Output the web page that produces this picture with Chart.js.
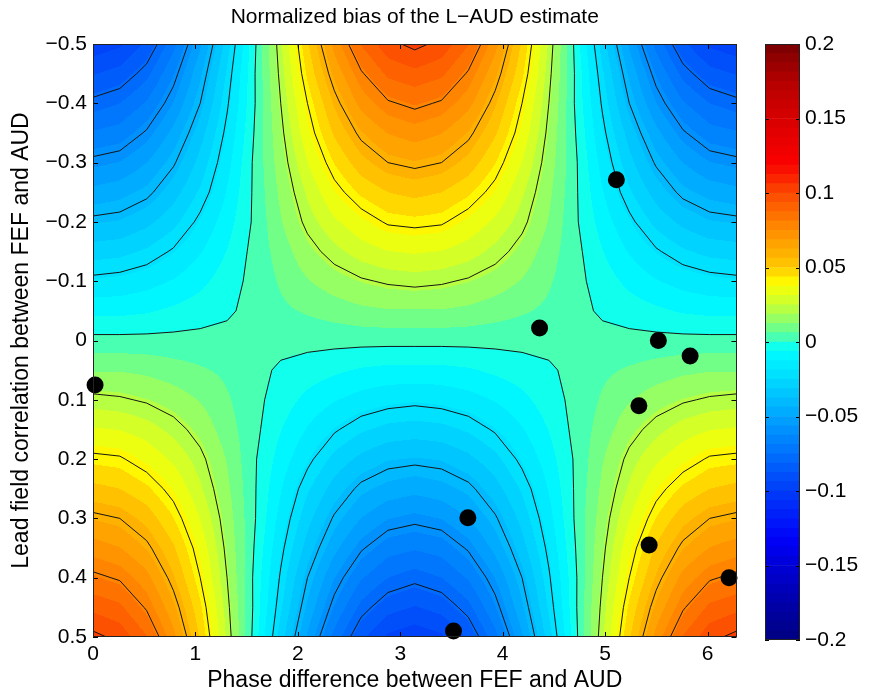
<!DOCTYPE html>
<html>
<head>
<meta charset="utf-8">
<title>Normalized bias of the L−AUD estimate</title>
<script src="https://cdn.jsdelivr.net/npm/chart.js@4.4.1/dist/chart.umd.min.js"></script>
<style>
  html, body { margin: 0; padding: 0; background: #fff; }
  #wrap { position: relative; width: 892px; height: 700px; }
  #biasChart { position: absolute; left: 0; top: 0; }
  #cbarChart { position: absolute; left: 740px; top: 0; }
</style>
</head>
<body>
<div id="wrap">
  <canvas id="biasChart" width="745" height="700"></canvas>
  <canvas id="cbarChart" width="152" height="700"></canvas>
</div>
<script>
// grid nodes (phase along x, lead field correlation along y)
var phaseNodes = [0, 0.262, 0.524, 0.785, 1.047, 1.309, 1.571, 1.833, 2.094, 2.356, 2.618, 2.880, 3.142,
                  3.403, 3.665, 3.927, 4.189, 4.451, 4.712, 4.974, 5.236, 5.498, 5.760, 6.021, 6.283];
var corrNodes = [-0.5, -0.45, -0.4, -0.35, -0.3, -0.25, -0.2, -0.15, -0.1, -0.05, 0,
                 0.05, 0.1, 0.15, 0.2, 0.25, 0.3, 0.35, 0.4, 0.45, 0.5];

// normalized bias, one row per corrNodes value
var biasGrid = [
  [-.098,-.095,-.086,-.071,-.051,-.028,-.002,.024,.049,.071,.088,.098,.102,.098,.088,.071,.049,.024,-.002,-.028,-.051,-.071,-.086,-.095,-.098],
  [-.088,-.085,-.077,-.063,-.045,-.024,-.001,.022,.045,.064,.079,.089,.092,.089,.079,.064,.045,.022,-.001,-.024,-.045,-.063,-.077,-.085,-.088],
  [-.078,-.075,-.068,-.056,-.040,-.021,-.001,.020,.040,.057,.071,.079,.082,.079,.071,.057,.040,.020,-.001,-.021,-.040,-.056,-.068,-.075,-.078],
  [-.068,-.066,-.059,-.048,-.034,-.018,.000,.018,.036,.051,.062,.069,.072,.069,.062,.051,.036,.018,.000,-.018,-.034,-.048,-.059,-.066,-.068],
  [-.058,-.056,-.050,-.041,-.029,-.015,.001,.016,.031,.044,.054,.060,.062,.060,.054,.044,.031,.016,.001,-.015,-.029,-.041,-.050,-.056,-.058],
  [-.048,-.046,-.042,-.034,-.024,-.012,.001,.014,.026,.037,.045,.050,.052,.050,.045,.037,.026,.014,.001,-.012,-.024,-.034,-.042,-.046,-.048],
  [-.038,-.037,-.033,-.027,-.018,-.009,.001,.012,.022,.030,.036,.041,.042,.041,.036,.030,.022,.012,.001,-.009,-.018,-.027,-.033,-.037,-.038],
  [-.028,-.027,-.024,-.019,-.013,-.006,.002,.009,.017,.023,.028,.031,.032,.031,.028,.023,.017,.009,.002,-.006,-.013,-.019,-.024,-.027,-.028],
  [-.018,-.017,-.015,-.012,-.008,-.003,.002,.007,.012,.016,.019,.021,.022,.021,.019,.016,.012,.007,.002,-.003,-.008,-.012,-.015,-.017,-.018],
  [-.008,-.008,-.007,-.005,-.003,-.001,.002,.005,.007,.009,.011,.012,.012,.012,.011,.009,.007,.005,.002,-.001,-.003,-.005,-.007,-.008,-.008],
  [.002,.002,.002,.002,.002,.002,.002,.002,.002,.002,.002,.002,.002,.002,.002,.002,.002,.002,.002,.002,.002,.002,.002,.002,.002],
  [.012,.012,.011,.009,.007,.005,.002,-.001,-.003,-.005,-.007,-.008,-.008,-.008,-.007,-.005,-.003,-.001,.002,.005,.007,.009,.011,.012,.012],
  [.022,.021,.019,.016,.012,.007,.002,-.003,-.008,-.012,-.015,-.017,-.018,-.017,-.015,-.012,-.008,-.003,.002,.007,.012,.016,.019,.021,.022],
  [.032,.031,.028,.023,.017,.009,.002,-.006,-.013,-.019,-.024,-.027,-.028,-.027,-.024,-.019,-.013,-.006,.002,.009,.017,.023,.028,.031,.032],
  [.042,.041,.036,.030,.022,.012,.001,-.009,-.018,-.027,-.033,-.037,-.038,-.037,-.033,-.027,-.018,-.009,.001,.012,.022,.030,.036,.041,.042],
  [.052,.050,.045,.037,.026,.014,.001,-.012,-.024,-.034,-.042,-.046,-.048,-.046,-.042,-.034,-.024,-.012,.001,.014,.026,.037,.045,.050,.052],
  [.062,.060,.054,.044,.031,.016,.001,-.015,-.029,-.041,-.050,-.056,-.058,-.056,-.050,-.041,-.029,-.015,.001,.016,.031,.044,.054,.060,.062],
  [.072,.069,.062,.051,.036,.018,.000,-.018,-.034,-.048,-.059,-.066,-.068,-.066,-.059,-.048,-.034,-.018,.000,.018,.036,.051,.062,.069,.072],
  [.082,.079,.071,.057,.040,.020,-.001,-.021,-.040,-.056,-.068,-.075,-.078,-.075,-.068,-.056,-.040,-.021,-.001,.020,.040,.057,.071,.079,.082],
  [.092,.089,.079,.064,.045,.022,-.001,-.024,-.045,-.063,-.077,-.085,-.088,-.085,-.077,-.063,-.045,-.024,-.001,.022,.045,.064,.079,.089,.092],
  [.102,.098,.088,.071,.049,.024,-.002,-.028,-.051,-.071,-.086,-.095,-.098,-.095,-.086,-.071,-.051,-.028,-.002,.024,.049,.071,.088,.098,.102]
];

var contourLevels = [-0.08, -0.06, -0.04, -0.02, 0, 0.02, 0.04, 0.06, 0.08, 0.1];

// black markers
var dotPhase = [5.11, 4.36, 5.52, 5.83, 5.33, 0.02, 3.66, 5.43, 6.21, 3.52];
var dotCorr  = [-0.271, -0.021, 0.0, 0.026, 0.110, 0.075, 0.299, 0.345, 0.400, 0.490];

// axis ticks
var phaseTicks = [0, 1, 2, 3, 4, 5, 6];
var corrTicks = [-0.5, -0.4, -0.3, -0.2, -0.1, 0, 0.1, 0.2, 0.3, 0.4, 0.5];
var cbarTicks = [-0.2, -0.15, -0.1, -0.05, 0, 0.05, 0.1, 0.15, 0.2];

// colour scale
var cbarMin = -0.2, cbarMax = 0.2, cbarBands = 64;
var cmapValues = [-0.2, -0.175, -0.15, -0.135, -0.125, -0.1, -0.075, -0.05, -0.025, -0.005,
                  0.004, 0.012, 0.025, 0.039, 0.05, 0.075, 0.1, 0.12, 0.15, 0.175, 0.2];
var cmapColors = [[0,0,130],[0,0,170],[0,0,215],[0,0,245],[0,15,250],[0,60,248],[0,112,252],[0,165,255],[0,218,255],[0,255,255],
                  [80,255,170],[130,255,120],[200,255,50],[255,255,0],[255,200,0],[255,140,0],[252,72,0],[250,0,0],[215,0,0],[180,0,0],[120,0,0]];

var FONT = "'Liberation Sans', Arial, Helvetica, sans-serif";

function colorAt(v) {
    if (v <= cmapValues[0]) return cmapColors[0];
    for (var k = 1; k < cmapValues.length; k++) {
        if (v <= cmapValues[k]) {
            var t = (v - cmapValues[k - 1]) / (cmapValues[k] - cmapValues[k - 1]);
            var a = cmapColors[k - 1], b = cmapColors[k];
            return [0, 1, 2].map(function (c) { return Math.round(a[c] + (b[c] - a[c]) * t); });
        }
    }
    return cmapColors[cmapColors.length - 1];
}

function bandIndex(v) {
    var i = Math.floor((v - cbarMin) / (cbarMax - cbarMin) * cbarBands);
    return Math.max(0, Math.min(cbarBands - 1, i));
}

function bandRGB(i) {
    return colorAt(cbarMin + (i + 0.5) * (cbarMax - cbarMin) / cbarBands);
}

function bandColor(i) {
    var c = bandRGB(i);
    return 'rgb(' + c[0] + ',' + c[1] + ',' + c[2] + ')';
}

function signedLabel(v) {
    if (v === 0) return '0';
    return (v < 0 ? '\u2212' : '') + Math.abs(v);
}

// index of the grid cell holding v, and the position inside it
function locate(nodes, v) {
    var j = 0;
    while (j < nodes.length - 2 && v > nodes[j + 1]) j++;
    var t = (v - nodes[j]) / (nodes[j + 1] - nodes[j]);
    return [j, Math.max(0, Math.min(1, t))];
}

// filled map + contour lines under the markers, frame and inward ticks on top
var fieldPlugin = {
    id: 'field',
    beforeDatasetsDraw: function (chart) {
        var ctx = chart.ctx, area = chart.chartArea, x = chart.scales.x, y = chart.scales.y;
        var dpr = chart.currentDevicePixelRatio || 1;
        var X0 = Math.round(area.left * dpr), Y0 = Math.round(area.top * dpr);
        var W = Math.round(area.right * dpr) - X0, H = Math.round(area.bottom * dpr) - Y0;
        var img = ctx.createImageData(W, H);
        var palette = [];
        for (var b = 0; b < cbarBands; b++) palette.push(bandRGB(b));

        // each grid cell is shaded from its four corner values
        var cols = [], rows = [];
        for (var px = 0; px < W; px++) cols.push(locate(phaseNodes, x.getValueForPixel((X0 + px + 0.5) / dpr)));
        for (var py = 0; py < H; py++) rows.push(locate(corrNodes, y.getValueForPixel((Y0 + py + 0.5) / dpr)));
        for (py = 0; py < H; py++) {
            var i = rows[py][0], ty = rows[py][1];
            var g0 = biasGrid[i], g1 = biasGrid[i + 1];
            for (px = 0; px < W; px++) {
                var j = cols[px][0], tx = cols[px][1];
                var top = g0[j] + (g0[j + 1] - g0[j]) * tx;
                var bot = g1[j] + (g1[j + 1] - g1[j]) * tx;
                var c = palette[bandIndex(top + (bot - top) * ty)];
                var o = (py * W + px) * 4;
                img.data[o] = c[0]; img.data[o + 1] = c[1]; img.data[o + 2] = c[2]; img.data[o + 3] = 255;
            }
        }
        ctx.putImageData(img, X0, Y0);

        ctx.save();
        ctx.beginPath();
        ctx.rect(area.left, area.top, area.right - area.left, area.bottom - area.top);
        ctx.clip();
        // marching squares over the node grid
        ctx.strokeStyle = '#151515';
        ctx.lineWidth = 1;
        ctx.lineJoin = 'round';
        contourLevels.forEach(function (level) {
            ctx.beginPath();
            for (var i = 0; i < corrNodes.length - 1; i++) {
                for (var j = 0; j < phaseNodes.length - 1; j++) {
                    var corners = [
                        [phaseNodes[j], corrNodes[i], biasGrid[i][j]],
                        [phaseNodes[j + 1], corrNodes[i], biasGrid[i][j + 1]],
                        [phaseNodes[j + 1], corrNodes[i + 1], biasGrid[i + 1][j + 1]],
                        [phaseNodes[j], corrNodes[i + 1], biasGrid[i + 1][j]]
                    ];
                    var pts = [];
                    for (var e = 0; e < 4; e++) {
                        var a = corners[e], b = corners[(e + 1) % 4];
                        if ((a[2] >= level) !== (b[2] >= level)) {
                            var t = (level - a[2]) / (b[2] - a[2]);
                            pts.push([a[0] + (b[0] - a[0]) * t, a[1] + (b[1] - a[1]) * t]);
                        }
                    }
                    for (var k = 0; k + 1 < pts.length; k += 2) {
                        ctx.moveTo(x.getPixelForValue(pts[k][0]), y.getPixelForValue(pts[k][1]));
                        ctx.lineTo(x.getPixelForValue(pts[k + 1][0]), y.getPixelForValue(pts[k + 1][1]));
                    }
                }
            }
            ctx.stroke();
        });
        ctx.restore();
    },
    afterDraw: function (chart) {
        var ctx = chart.ctx, area = chart.chartArea, x = chart.scales.x, y = chart.scales.y;
        var len = 5;
        ctx.save();
        ctx.strokeStyle = '#000';
        ctx.lineWidth = 1;
        ctx.beginPath();
        phaseTicks.forEach(function (v) {
            var px = Math.round(x.getPixelForValue(v)) + 0.5;
            ctx.moveTo(px, area.bottom); ctx.lineTo(px, area.bottom - len);
            ctx.moveTo(px, area.top); ctx.lineTo(px, area.top + len);
        });
        corrTicks.forEach(function (v) {
            var py = Math.round(y.getPixelForValue(v)) + 0.5;
            ctx.moveTo(area.left, py); ctx.lineTo(area.left + len, py);
            ctx.moveTo(area.right, py); ctx.lineTo(area.right - len, py);
        });
        ctx.stroke();
        ctx.strokeStyle = '#222';
        ctx.strokeRect(Math.round(area.left) + 0.5, Math.round(area.top) + 0.5,
                       Math.round(area.right - area.left) - 1, Math.round(area.bottom - area.top) - 1);
        ctx.restore();
    }
};

var dots = dotPhase.map(function (p, i) { return { x: p, y: dotCorr[i] }; });

new Chart(document.getElementById('biasChart'), {
    type: 'scatter',
    data: {
        datasets: [{
            data: dots,
            backgroundColor: '#000',
            borderColor: '#000',
            borderWidth: 0,
            pointRadius: 8.5,
            pointHoverRadius: 8.5,
            clip: false
        }]
    },
    options: {
        responsive: false,
        animation: false,
        events: [],
        layout: { padding: { left: 0, right: 4, top: 0, bottom: 0 } },
        plugins: {
            legend: { display: false },
            tooltip: { enabled: false },
            title: {
                display: true,
                fullSize: false,
                text: 'Normalized bias of the L\u2212AUD estimate',
                color: '#000',
                font: { family: FONT, size: 21, weight: 'normal' },
                padding: { top: 5, bottom: 13.8 }
            }
        },
        scales: {
            x: {
                type: 'linear',
                min: phaseNodes[0],
                max: phaseNodes[phaseNodes.length - 1],
                afterBuildTicks: function (s) { s.ticks = phaseTicks.map(function (v) { return { value: v }; }); },
                afterFit: function (s) { s.height = 63; },
                grid: { display: false, drawTicks: false },
                border: { display: false },
                ticks: {
                    autoSkip: false, maxRotation: 0, padding: 5, color: '#000',
                    font: { family: FONT, size: 21 },
                    callback: function (v) { return String(v); }
                },
                title: {
                    display: true,
                    text: 'Phase difference between FEF and AUD',
                    color: '#000',
                    font: { family: FONT, size: 23 },
                    padding: { top: 0, bottom: 6 }
                }
            },
            y: {
                type: 'linear',
                reverse: true,
                min: corrNodes[0],
                max: corrNodes[corrNodes.length - 1],
                afterBuildTicks: function (s) { s.ticks = corrTicks.map(function (v) { return { value: v }; }); },
                afterFit: function (s) { s.width = 93; },
                grid: { display: false, drawTicks: false },
                border: { display: false },
                ticks: {
                    autoSkip: false, padding: 6, color: '#000',
                    font: { family: FONT, size: 21 },
                    callback: signedLabel
                },
                title: {
                    display: true,
                    text: 'Lead field correlation between FEF and AUD',
                    color: '#000',
                    font: { family: FONT, size: 23 },
                    padding: { top: 8, bottom: 0 }
                }
            }
        }
    },
    plugins: [fieldPlugin]
});

// colour bar: one floating bar per colour band
var bandSets = [];
for (var b = 0; b < cbarBands; b++) {
    var lo = cbarMin + b * (cbarMax - cbarMin) / cbarBands;
    var hi = cbarMin + (b + 1) * (cbarMax - cbarMin) / cbarBands;
    bandSets.push({
        data: [[lo, hi]],
        backgroundColor: bandColor(b),
        borderWidth: 0,
        grouped: false,
        barPercentage: 1,
        categoryPercentage: 1
    });
}

var cbarFrame = {
    id: 'cbarFrame',
    afterDraw: function (chart) {
        var ctx = chart.ctx, area = chart.chartArea, y = chart.scales.y;
        ctx.save();
        ctx.strokeStyle = '#000';
        ctx.lineWidth = 1;
        ctx.beginPath();
        cbarTicks.forEach(function (v) {
            var py = Math.round(y.getPixelForValue(v)) + 0.5;
            ctx.moveTo(area.left, py); ctx.lineTo(area.left + 4, py);
            ctx.moveTo(area.right, py); ctx.lineTo(area.right - 4, py);
        });
        ctx.stroke();
        ctx.strokeStyle = '#222';
        ctx.strokeRect(Math.round(area.left) + 0.5, Math.round(area.top) + 0.5,
                       Math.round(area.right - area.left) - 1, Math.round(area.bottom - area.top) - 1);
        ctx.restore();
    }
};

new Chart(document.getElementById('cbarChart'), {
    type: 'bar',
    data: { labels: [''], datasets: bandSets },
    options: {
        responsive: false,
        animation: false,
        events: [],
        layout: { padding: { left: 25, right: 0, top: 44, bottom: 60 } },
        plugins: { legend: { display: false }, tooltip: { enabled: false } },
        scales: {
            x: { display: false },
            y: {
                position: 'right',
                min: cbarMin,
                max: cbarMax,
                afterBuildTicks: function (s) { s.ticks = cbarTicks.map(function (v) { return { value: v }; }); },
                afterFit: function (s) { s.width = 92; },
                grid: { display: false, drawTicks: false },
                border: { display: false },
                ticks: {
                    autoSkip: false, padding: 5, color: '#000',
                    font: { family: FONT, size: 21 },
                    callback: signedLabel
                }
            }
        }
    },
    plugins: [cbarFrame]
});
</script>
</body>
</html>
